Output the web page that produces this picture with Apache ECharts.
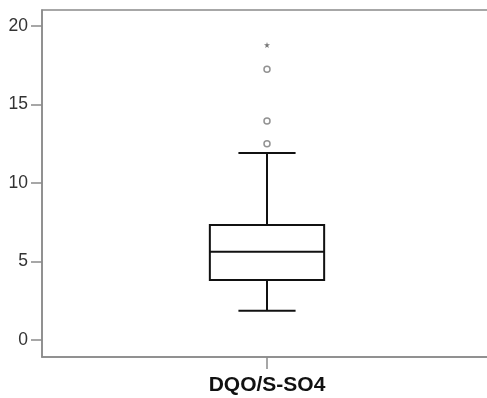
<!DOCTYPE html>
<html>
<head>
<meta charset="utf-8">
<script src="https://cdn.jsdelivr.net/npm/echarts@6/dist/echarts.min.js"></script>
<style>
  html, body { margin: 0; padding: 0; background: #fff; }
  #chart { width: 487px; height: 398px; }
</style>
</head>
<body>
<div id="chart"></div>
<script>
// Variable shown on the category axis
const categories = ['DQO/S-SO4'];
// Five-number summary: lower whisker, Q1, median, Q3, upper whisker
const boxStats = [[1.87, 3.82, 5.62, 7.32, 11.91]];
// Mild outliers (circles) and extreme values (stars)
const outliers = [12.5, 13.95, 17.24];
const extremes = [18.79];
// Y axis tick labels
const yTicks = [0, 5, 10, 15, 20];

const chart = echarts.init(document.getElementById('chart'));

const boxData = boxStats.map((s, i) => [i].concat(s));

function renderBox(params, api) {
  const x = api.value(0);
  const lo = api.coord([x, api.value(1)]);
  const q1 = api.coord([x, api.value(2)]);
  const med = api.coord([x, api.value(3)]);
  const q3 = api.coord([x, api.value(4)]);
  const hi = api.coord([x, api.value(5)]);
  const band = api.size([1, 0])[0];
  const half = band * 0.127;
  const cap = half / 2;
  const cx = lo[0];
  const style = { stroke: '#111', lineWidth: 2, fill: null };
  return {
    type: 'group',
    children: [
      { type: 'line', shape: { x1: cx, y1: q3[1], x2: cx, y2: hi[1] }, style },
      { type: 'line', shape: { x1: cx - cap, y1: hi[1], x2: cx + cap, y2: hi[1] }, style },
      { type: 'line', shape: { x1: cx, y1: q1[1], x2: cx, y2: lo[1] }, style },
      { type: 'line', shape: { x1: cx - cap, y1: lo[1], x2: cx + cap, y2: lo[1] }, style },
      { type: 'rect', shape: { x: cx - half, y: q3[1], width: half * 2, height: q1[1] - q3[1] },
        style: { stroke: '#111', lineWidth: 2, fill: '#fff' } },
      { type: 'line', shape: { x1: cx - half, y1: med[1], x2: cx + half, y2: med[1] }, style }
    ]
  };
}

chart.setOption({
  animation: false,
  backgroundColor: '#fff',
  grid: {
    left: 42, top: 10, width: 450, height: 347,
    outerBoundsMode: 'none',
    containLabel: false,
    show: true, borderColor: '#8a8a8a', borderWidth: 1.5, backgroundColor: 'transparent'
  },
  xAxis: {
    type: 'category',
    data: categories,
    boundaryGap: true,
    axisLine: { show: true, onZero: false, lineStyle: { color: '#8a8a8a', width: 1.5 } },
    axisTick: { show: true, alignWithLabel: true, length: 12, lineStyle: { color: '#8a8a8a', width: 1.5 } },
    axisLabel: {
      margin: 18, color: '#111', fontFamily: 'Liberation Sans, Arial, sans-serif',
      fontWeight: 'bold', fontSize: 21
    },
    splitLine: { show: false }
  },
  yAxis: {
    type: 'value',
    min: -1.08,
    max: 21.02,
    axisLine: { show: true, lineStyle: { color: '#8a8a8a', width: 1.5 } },
    axisTick: { show: true, length: 11, customValues: yTicks, lineStyle: { color: '#8a8a8a', width: 1.5 } },
    axisLabel: {
      customValues: yTicks, margin: 14, color: '#333',
      fontFamily: 'Liberation Sans, Arial, sans-serif', fontSize: 17.5
    },
    splitLine: { show: false }
  },
  series: [
    {
      type: 'custom',
      renderItem: renderBox,
      data: boxData,
      encode: { x: 0, y: [1, 2, 3, 4, 5] },
      z: 2
    },
    {
      type: 'scatter',
      data: outliers.map(v => [0, v]),
      symbol: 'circle',
      symbolSize: 6,
      itemStyle: { color: '#fff', borderColor: '#777', borderWidth: 1.5 },
      z: 3
    },
    {
      type: 'scatter',
      data: extremes.map(v => [0, v]),
      symbol: 'path://M50,0 L61,35 L98,35 L68,57 L79,91 L50,70 L21,91 L32,57 L2,35 L39,35 Z',
      symbolSize: 6,
      itemStyle: { color: '#555' },
      z: 3
    }
  ]
});
</script>
</body>
</html>
